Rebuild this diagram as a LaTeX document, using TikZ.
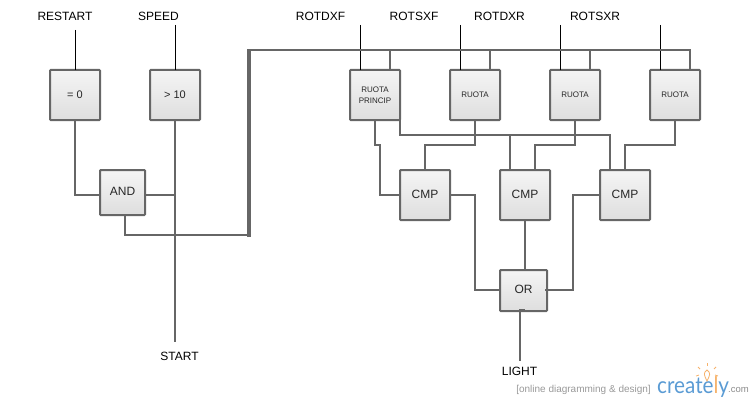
\documentclass[tikz,border=0pt]{standalone}
\usepackage{fontspec}
\setmainfont{Liberation Sans}
\newfontfamily\logofont{Lato}
\usetikzlibrary{calc}
\definecolor{wirec}{HTML}{666666}
\definecolor{logoblue}{HTML}{5A9BD4}
\definecolor{logoorange}{HTML}{F6B26B}
\tikzset{
  x=1pt,y=-1pt,
  gate/.style={draw=wirec,line width=2pt,rounded corners=0.8pt,top color=white!96!black,bottom color=white!87!black,
    inner sep=0pt,outer sep=0pt,minimum width=50pt,minimum height=50pt,font=\fontsize{11}{12}\selectfont,align=center,text=black!85},
  smallgate/.style={gate,font=\fontsize{8}{11}\selectfont},
  wire/.style={draw=wirec,line width=2pt,line join=miter},
  busbar/.style={draw=wirec,line width=4pt},
  signal/.style={draw=black,line width=1pt},
  lbl/.style={inner sep=0pt,font=\fontsize{12}{14}\selectfont,text=black,anchor=center},
  up/.style={text depth=1.5pt},
}
\begin{document}
\begin{tikzpicture}
\useasboundingbox (0,0) rectangle (755,404);
% gates
\node[gate] (eqz) at (75,95) {= 0};
\node[gate] (gtt) at (175,95) {> 10};
\node[gate,up,minimum width=45pt,minimum height=45pt,font=\fontsize{12}{14}\selectfont] (and) at (122.5,192.5) {AND};
\node[smallgate] (r1) at (375,95) {RUOTA\\PRINCIP};
\node[smallgate,up] (r2) at (475,95) {RUOTA};
\node[smallgate,up] (r3) at (575,95) {RUOTA};
\node[smallgate,up] (r4) at (675,95) {RUOTA};
\node[gate,up,font=\fontsize{12}{14}\selectfont] (c1) at (425,195) {CMP};
\node[gate,up,font=\fontsize{12}{14}\selectfont] (c2) at (525,195) {CMP};
\node[gate,up,font=\fontsize{12}{14}\selectfont] (c3) at (625,195) {CMP};
\node[gate,up,minimum width=47pt,minimum height=41pt,font=\fontsize{12}{14}\selectfont] (or) at (523.5,290.5) {OR};
% labels
\node[lbl] (lrestart) at (65,16) {RESTART};
\node[lbl] (lspeed) at (158.5,16) {SPEED};
\node[lbl] (lrdxf) at (320.5,16) {ROTDXF};
\node[lbl] (lrsxf) at (414,16) {ROTSXF};
\node[lbl] (lrdxr) at (499.5,16) {ROTDXR};
\node[lbl] (lrsxr) at (595,16) {ROTSXR};
\node[lbl] (lstart) at (179.5,356) {START};
\node[lbl] (llight) at (519.5,371) {LIGHT};
% free ends
\coordinate (busTL) at (249,50);
\coordinate (busBL) at (249,235);
\coordinate (busTR) at (690,50);
\coordinate (sr) at (75,30);
\coordinate (ss) at (175,25);
\coordinate (s1) at (360.5,25);
\coordinate (s2) at (460.5,25);
\coordinate (s3) at (560.5,25);
\coordinate (s4) at (660.5,25);
\coordinate (startend) at (175,342);
\coordinate (lightend) at (520,361);
% input signals
\draw[signal] (sr) -- (sr |- eqz.north);
\draw[signal] (ss) -- (ss |- gtt.north);
\draw[signal] (s1) -- (s1 |- r1.north);
\draw[signal] (s2) -- (s2 |- r2.north);
\draw[signal] (s3) -- (s3 |- r3.north);
\draw[signal] (s4) -- (s4 |- r4.north);
% left part
\draw[wire] (eqz.south) -- (75,195) -- (100,195);
\draw[wire] (gtt.south) -- (startend);
\draw[wire] (145,195) -- (175,195);
\draw[wire] (125,215) -- (125,235) -- (busBL);
\draw[busbar] ([yshift=-2pt]busBL) -- ([yshift=1pt]busTL);
% bus
\draw[wire] (busTL) -- (busTR) -- (690,70);
\draw[wire] (390,50) -- (390,70);
\draw[wire] (490,50) -- (490,70);
\draw[wire] (590,50) -- (590,70);
% wheels to comparators
\draw[wire] (r1.south) -- (375,145) -- (380,145) -- (380,195) -- (c1.west);
\draw[wire] (r1.south east) -- (400,135) -- (610,135) -- (610,170);
\draw[wire] (510,135) -- (510,170);
\draw[wire] (r2.south) -- (475,145) -- (425,145) -- (425,170);
\draw[wire] (r3.south) -- (575,145) -- (535,145) -- (535,170);
\draw[wire] (r4.south) -- (675,145) -- (625,145) -- (625,170);
% comparators to OR
\draw[wire] (c1.east) -- (475,195) -- (475,290) -- (500,290);
\draw[wire] (c2.south) -- (525,270);
\draw[wire] (c3.west) -- (573,195) -- (573,290) -- (545,290);
\draw[wire] (525,310) -- (520,310) -- (lightend);
% logo
\node[inner sep=0pt,anchor=base east,text=black!40,font=\fontsize{10}{11}\selectfont] (tagline) at (651,392) {[online diagramming \& design]};
\node[inner sep=0pt,anchor=base west,font=\logofont\fontsize{23}{25}\selectfont,text=logoblue,xscale=0.9,transform shape] (logo) at (657,393) {create\textcolor{logoorange}{l}y};
\node[inner sep=0pt,anchor=base east,text=black!45,font=\fontsize{9.5}{11}\selectfont] (dotcom) at (749,392) {.com};
\draw[logoorange,line width=0.8pt,fill=white] (707,381) .. controls (704,375) and (703,373) .. (707,370) .. controls (711,373) and (710,375) .. (707,381) -- cycle;
\foreach \a/\b/\c/\d in {707/366/707/363, 700/369/698/367, 714/369/716/367, 699/375/696/376, 715/375/718/376}
  \draw[logoorange,line width=0.8pt] (\a,\b) -- (\c,\d);
\end{tikzpicture}
\end{document}
